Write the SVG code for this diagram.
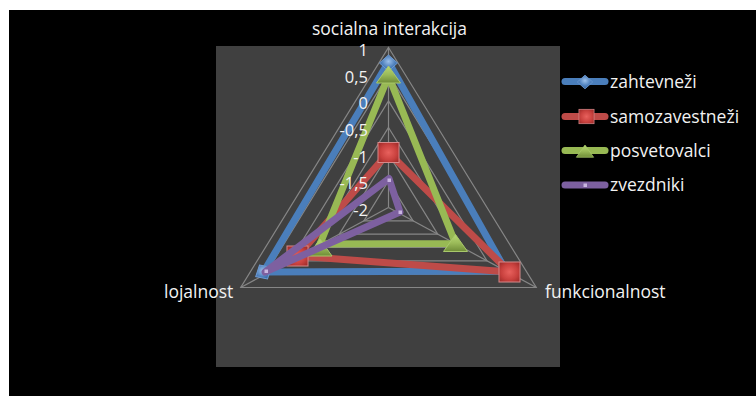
<svg xmlns="http://www.w3.org/2000/svg" width="756" height="396" viewBox="0 0 756 396">
<style>
  .txt { font-family: "Open Sans", "Liberation Sans", sans-serif; font-size: 17.5px; fill: #f2f2f2; }
  .ax { font-family: "Open Sans", "Liberation Sans", sans-serif; font-size: 16.5px; fill: #f2f2f2; text-anchor: end; }
  .grid { fill: none; stroke: #868686; stroke-width: 1.2; }
  .ser { fill: none; stroke-width: 7; stroke-linejoin: round; }
  .leg { stroke-width: 7; stroke-linecap: round; }
</style>
<defs>
  <radialGradient id="gRed" cx="50%" cy="50%" r="65%">
    <stop offset="0" stop-color="#e8615d"/>
    <stop offset="0.6" stop-color="#c9413e"/>
    <stop offset="1" stop-color="#9e2b29"/>
  </radialGradient>
  <linearGradient id="gGreen" x1="0" y1="0" x2="0" y2="1">
    <stop offset="0" stop-color="#b8d873"/>
    <stop offset="0.5" stop-color="#9bbb59"/>
    <stop offset="1" stop-color="#6f8c37"/>
  </linearGradient>
  <radialGradient id="gBlue" cx="50%" cy="40%" r="60%">
    <stop offset="0" stop-color="#9cc0ea"/>
    <stop offset="0.6" stop-color="#4f81bd"/>
    <stop offset="1" stop-color="#2f5f99"/>
  </radialGradient>
  <g id="mkBlue">
    <polygon points="0,-8 9,0 0,8 -9,0" fill="url(#gBlue)" stroke="#6d9ad2" stroke-width="1"/>
  </g>
  <g id="mkRed">
    <rect x="-10.5" y="-10" width="21" height="20" fill="url(#gRed)" stroke="#d6898a" stroke-width="1"/>
  </g>
  <g id="mkGreen">
    <polygon points="0,-9 12,8 -12,8" fill="url(#gGreen)" stroke="#a9c86b" stroke-width="1"/>
  </g>
  <g id="mkPurple">
    <rect x="-1.5" y="-1.5" width="3.5" height="3.5" fill="#c9b6e0"/>
  </g>
</defs>

<rect x="0" y="0" width="756" height="396" fill="#ffffff"/>
<rect x="9" y="10" width="747" height="386" fill="#000000"/>
<rect x="216" y="46" width="344" height="321" fill="#404040"/>

<g id="grid">
  <polygon class="grid" points="388.5,180.83 413.13,220.83 363.88,220.83"/>
  <polygon class="grid" points="388.5,154.17 437.75,234.17 339.25,234.17"/>
  <polygon class="grid" points="388.5,127.5 462.38,247.5 314.63,247.5"/>
  <polygon class="grid" points="388.5,100.83 487,260.83 290,260.83"/>
  <polygon class="grid" points="388.5,74.17 511.63,274.17 265.38,274.17"/>
  <polygon class="grid" points="388.5,47.5 536.25,287.5 240.75,287.5"/>
  <line class="grid" x1="388.5" y1="207.5" x2="388.5" y2="47.5"/>
  <line class="grid" x1="388.5" y1="207.5" x2="536.25" y2="287.5"/>
  <line class="grid" x1="388.5" y1="207.5" x2="240.75" y2="287.5"/>
</g>

<g id="connectors">
  <g id="series-zahtevnezi">
    <polygon class="ser" stroke="#4a7ebb" points="388.5,62 506,271 263.5,272"/>
    <use href="#mkBlue" x="388.5" y="63"/>
    <use href="#mkBlue" x="506" y="271"/>
    <use href="#mkBlue" x="263.5" y="272" transform="rotate(-30 263.5 272)"/>
  </g>
  <g id="series-samozavestnezi">
    <polygon class="ser" stroke="#be4b48" points="388.5,152.5 509.5,272 297.5,256"/>
    <use href="#mkRed" x="388.5" y="152.5"/>
    <use href="#mkRed" x="509.5" y="272"/>
    <use href="#mkRed" x="297.5" y="256"/>
  </g>
  <g id="series-posvetovalci">
    <polygon class="ser" stroke="#98b954" points="388.5,76 455.5,243.5 320,244"/>
    <use href="#mkGreen" x="388.5" y="75"/>
    <use href="#mkGreen" x="455.5" y="243.5"/>
    <use href="#mkGreen" x="320" y="248"/>
  </g>
  <g id="series-zvezdniki">
    <polygon class="ser" stroke="#7d60a0" points="389,178.5 400,212 265,272"/>
    <use href="#mkPurple" x="389" y="180"/>
    <use href="#mkPurple" x="400" y="212"/>
    <use href="#mkPurple" x="266" y="271"/>
  </g>
</g>

<g id="axis-labels">
  <text class="ax" x="368" y="56">1</text>
  <text class="ax" x="368" y="82.5">0,5</text>
  <text class="ax" x="368" y="109">0</text>
  <text class="ax" x="368" y="135.8">-0,5</text>
  <text class="ax" x="368" y="162.5">-1</text>
  <text class="ax" x="368" y="189.2">-1,5</text>
  <text class="ax" x="368" y="216">-2</text>
</g>

<g id="category-labels">
  <text class="txt" x="389.5" y="35" text-anchor="middle">socialna interakcija</text>
  <text class="txt" x="164" y="298">lojalnost</text>
  <text class="txt" x="545" y="298">funkcionalnost</text>
</g>

<g id="legend">
  <g id="legend-zahtevnezi">
    <line class="leg" stroke="#4a7ebb" x1="565" y1="81.5" x2="605" y2="81.5"/>
    <use href="#mkBlue" transform="translate(585 82) scale(0.85)"/>
    <text class="txt" x="610" y="88.3">zahtevneži</text>
  </g>
  <g id="legend-samozavestnezi">
    <line class="leg" stroke="#be4b48" x1="565" y1="116.5" x2="605" y2="116.5"/>
    <use href="#mkRed" transform="translate(586.5 116.5) scale(0.72)"/>
    <text class="txt" x="610" y="122.8">samozavestneži</text>
  </g>
  <g id="legend-posvetovalci">
    <line class="leg" stroke="#98b954" x1="565" y1="150.5" x2="605" y2="150.5"/>
    <use href="#mkGreen" transform="translate(585 151.5) scale(0.72)"/>
    <text class="txt" x="610" y="157">posvetovalci</text>
  </g>
  <g id="legend-zvezdniki">
    <line class="leg" stroke="#7d60a0" x1="565" y1="185" x2="605" y2="185"/>
    <use href="#mkPurple" x="585" y="185"/>
    <text class="txt" x="610" y="191.4">zvezdniki</text>
  </g>
</g>
</svg>
